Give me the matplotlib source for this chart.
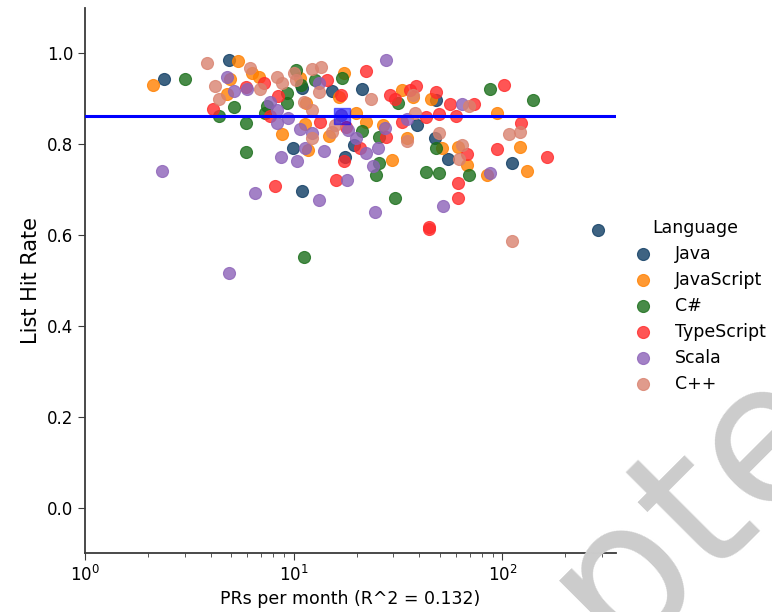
import numpy as np
import matplotlib
matplotlib.use("Agg")
import matplotlib.pyplot as plt

# 各语言的 (PRs per month, List Hit Rate)
languages = ["Java", "JavaScript", "C#", "TypeScript", "Scala", "C++"]
colors = ["#0e3c63", "#ff8000", "#1a6e1a", "#ff2b2b", "#8c62b8", "#d9826f"]

java_x = [2.39, 4.88, 10.9, 15.2, 21.2, 48.3, 38.8, 47.7, 19.5, 17.7, 55.0, 111, 288, 9.9, 10.9]
java_y = [0.943, 0.985, 0.923, 0.916, 0.921, 0.897, 0.842, 0.813, 0.798, 0.771, 0.767, 0.758, 0.611, 0.791, 0.697]

js_x = [2.12, 5.40, 4.78, 4.94, 6.29, 6.80, 8.77, 11.5, 11.3, 11.7, 14.7, 16.4, 17.5, 19.8, 22.3,
        26.7, 29.5, 32.9, 37.1, 45.7, 34.8, 51.1, 61.0, 67.3, 83.9, 93.9, 121, 131, 10.7]
js_y = [0.930, 0.982, 0.910, 0.943, 0.956, 0.947, 0.822, 0.890, 0.844, 0.787, 0.818, 0.903, 0.956, 0.868, 0.848,
        0.842, 0.765, 0.919, 0.903, 0.899, 0.813, 0.791, 0.793, 0.754, 0.732, 0.868, 0.793, 0.741, 0.945]

cs_x = [3.01, 4.38, 5.16, 5.89, 5.89, 7.41, 7.26, 9.25, 9.25, 10.3, 10.8, 12.6, 17.1, 31.5, 21.3,
        25.5, 25.5, 24.9, 30.4, 43.2, 49.4, 48.3, 69.5, 87.6, 140, 11.2]
cs_y = [0.943, 0.862, 0.881, 0.846, 0.782, 0.884, 0.868, 0.912, 0.890, 0.963, 0.930, 0.941, 0.945, 0.890, 0.829,
        0.815, 0.758, 0.732, 0.681, 0.738, 0.736, 0.791, 0.732, 0.921, 0.897, 0.552]

ts_x = [4.10, 5.89, 7.19, 8.40, 8.18, 7.68, 14.5, 16.8, 22.3, 28.8, 30.4, 35.9, 38.4, 48.3, 55.8,
        72.7, 102, 32.9, 43.2, 49.4, 59.7, 123, 27.8, 17.9, 20.7, 17.5, 16.0, 67.3, 93.9, 164,
        61.0, 44.6, 44.6, 61.0, 13.4]
ts_y = [0.877, 0.925, 0.934, 0.905, 0.708, 0.862, 0.941, 0.908, 0.960, 0.908, 0.899, 0.919, 0.927, 0.914, 0.888,
        0.888, 0.930, 0.848, 0.859, 0.866, 0.862, 0.846, 0.815, 0.837, 0.791, 0.763, 0.721, 0.778, 0.789, 0.771,
        0.714, 0.613, 0.618, 0.681, 0.848]

scala_x = [2.34, 4.78, 5.16, 5.95, 7.68, 8.29, 8.29, 9.35, 10.7, 12.3, 11.3, 13.9, 8.66, 10.4, 13.2,
           6.52, 13.2, 18.3, 19.8, 22.1, 25.3, 27.3, 23.9, 18.1, 24.6, 27.8, 51.8, 64.3, 87.6, 34.8,
           16.9, 4.88]
scala_y = [0.741, 0.947, 0.916, 0.921, 0.892, 0.875, 0.846, 0.857, 0.833, 0.824, 0.791, 0.785, 0.771, 0.763, 0.677,
           0.692, 0.934, 0.831, 0.813, 0.780, 0.791, 0.835, 0.752, 0.721, 0.651, 0.985, 0.664, 0.888, 0.736, 0.855,
           0.864, 0.516]

cpp_x = [3.83, 4.19, 4.38, 6.16, 6.88, 8.29, 8.77, 10.0, 10.3, 12.3, 13.5, 13.2, 11.2, 12.3, 15.2,
         12.3, 15.7, 23.4, 37.1, 38.0, 49.4, 64.3, 61.6, 69.5, 107, 121, 111, 35.0]
cpp_y = [0.978, 0.927, 0.899, 0.967, 0.921, 0.947, 0.934, 0.956, 0.941, 0.965, 0.969, 0.914, 0.892, 0.875, 0.826,
         0.813, 0.842, 0.899, 0.908, 0.868, 0.824, 0.798, 0.767, 0.884, 0.822, 0.826, 0.587, 0.807]

series_x = [java_x, js_x, cs_x, ts_x, scala_x, cpp_x]
series_y = [java_y, js_y, cs_y, ts_y, scala_y, cpp_y]

# 均值点和均值线
mean_prs = 17.0
mean_hit_rate = 0.862
r_squared = 0.132


def main():
    fig = plt.figure(figsize=(7.72, 6.12), dpi=100)
    ax = fig.add_axes([0.110, 0.0964, 0.688, 0.891])

    for lang, color, xs, ys in zip(languages, colors, series_x, series_y):
        ax.scatter(xs, ys, s=75, color=color, alpha=0.8, edgecolors=color,
                   linewidths=0.8, label=lang, zorder=2)

    ax.axhline(mean_hit_rate, color="blue", lw=2.2, zorder=3)
    ax.plot([mean_prs], [mean_hit_rate], marker="s", markersize=11, color="blue",
            alpha=0.55, zorder=4)

    ax.set_xscale("log")
    ax.set_xlim(1, 350)
    ax.set_ylim(-0.1, 1.1)
    ax.set_yticks([0.0, 0.2, 0.4, 0.6, 0.8, 1.0])

    for side in ["top", "right"]:
        ax.spines[side].set_visible(False)
    for side in ["left", "bottom"]:
        ax.spines[side].set_color("#3a3a3a")
        ax.spines[side].set_linewidth(1.3)
    ax.tick_params(axis="both", which="major", labelsize=12, length=5, color="#3a3a3a")
    ax.tick_params(axis="x", which="minor", length=3, color="#3a3a3a")

    ax.set_ylabel("List Hit Rate", fontsize=15)
    ax.set_xlabel(f"PRs per month (R^2 = {r_squared})", fontsize=12.5)

    leg = fig.legend(loc="center left", bbox_to_anchor=(0.79, 0.50), frameon=False,
                     title="Language", fontsize=12.5, title_fontsize=12.5,
                     handletextpad=0.85, labelspacing=0.46)
    for h in leg.legend_handles:
        h.set_sizes([75])

    # 水印
    fig.text(0.797, -0.101, "Accepted", rotation=45, rotation_mode="anchor",
             ha="center", va="baseline", fontsize=140, color="#cccccc", zorder=0)

    fig.savefig("out.png", dpi=100)
    plt.close(fig)


if __name__ == "__main__":
    main()
